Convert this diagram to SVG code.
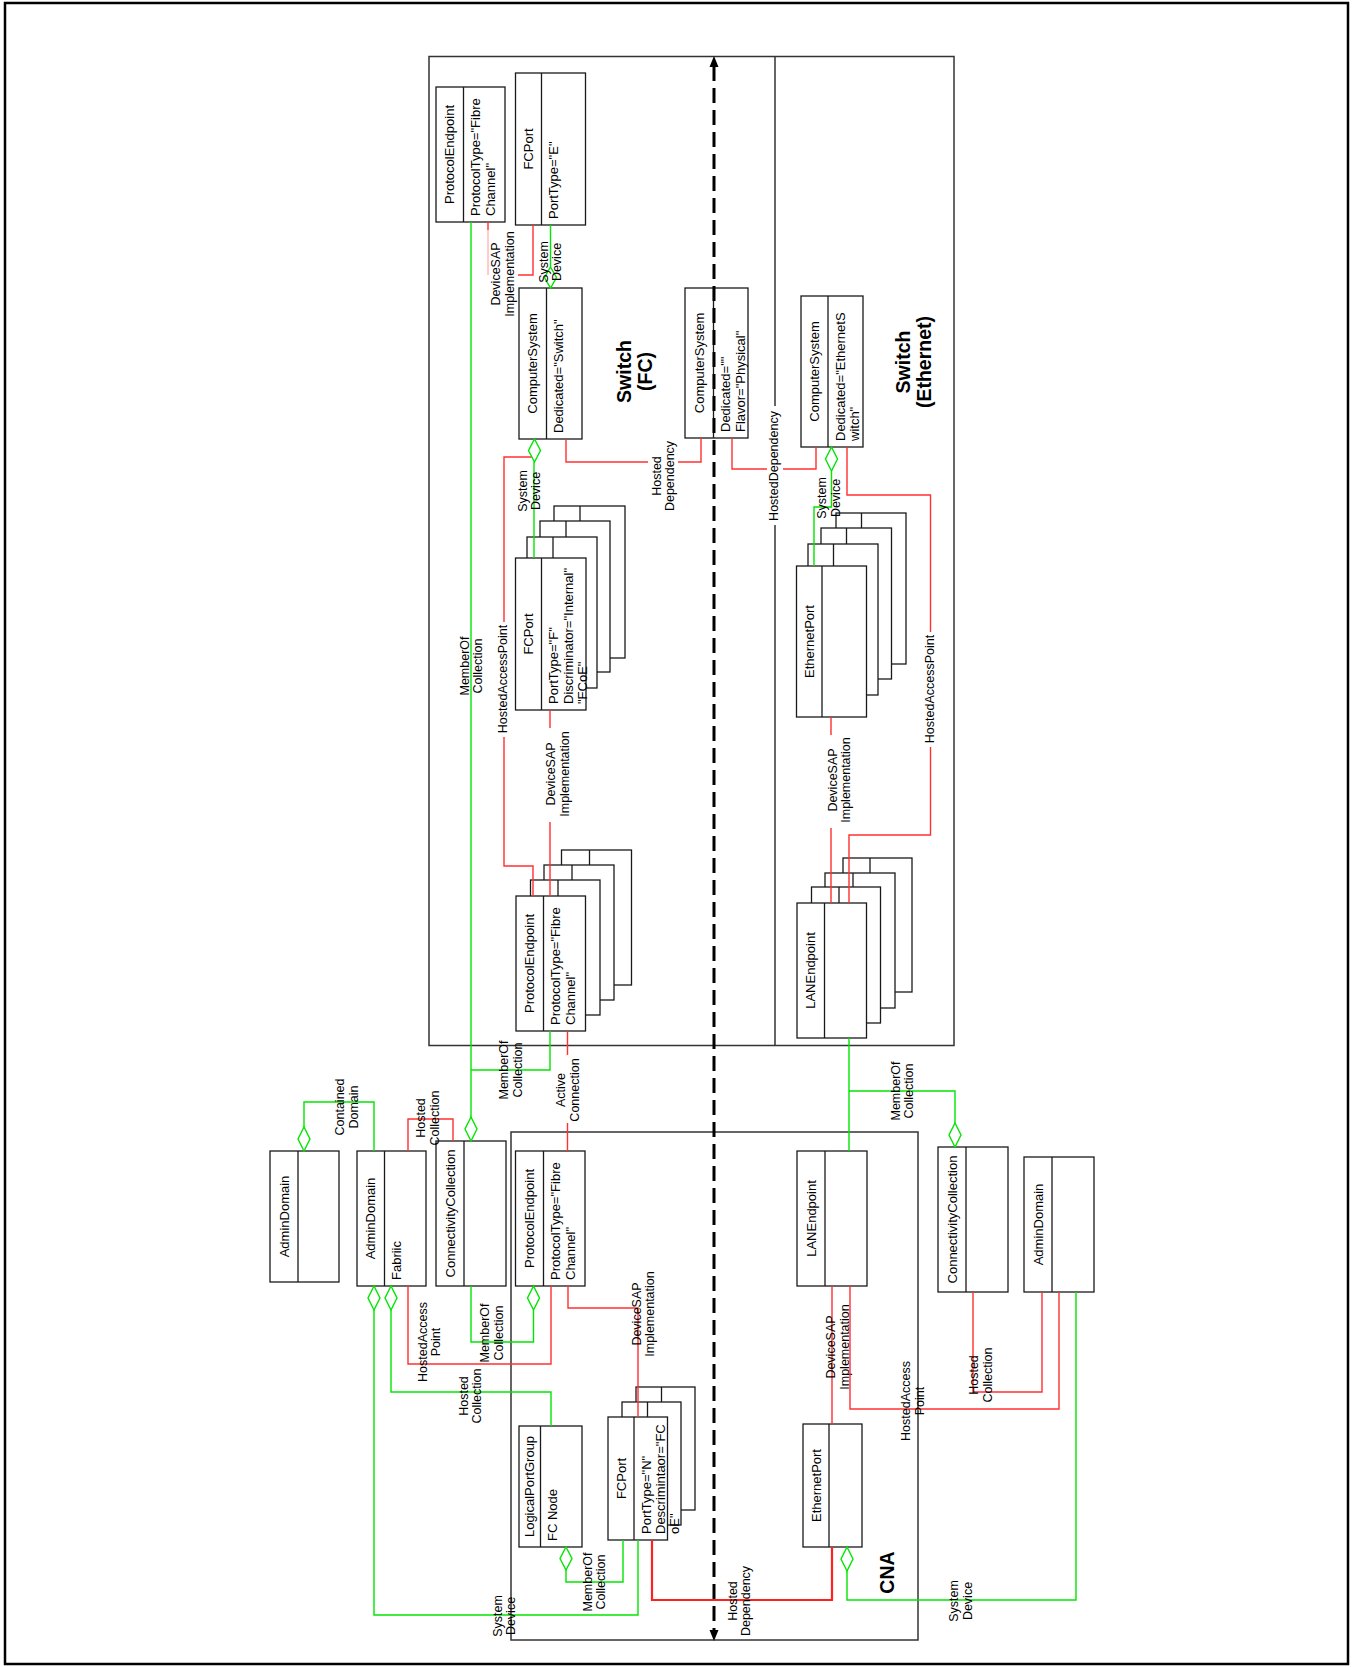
<svg xmlns="http://www.w3.org/2000/svg" width="1353" height="1667" viewBox="0 0 1353 1667">
<style>
.box{fill:#fff;stroke:#1a1a1a;stroke-width:1.3}
.dv{stroke:#1a1a1a;stroke-width:1.3}
.cont{fill:none;stroke:#333;stroke-width:1.5}
.t{font-family:"Liberation Sans",Arial,sans-serif;font-size:13px;fill:#000}
.lbl{font-size:12.5px}
.ttl{font-family:"Liberation Sans",Arial,sans-serif;font-size:19.5px;font-weight:bold;fill:#000}
.g{stroke:#00e600;fill:none;stroke-width:1.4}
.r{stroke:#ff3030;fill:none;stroke-width:1.4}
.rt{stroke:#ff2020;fill:none;stroke-width:2.2}
.dia{fill:#fff;stroke:#00e600;stroke-width:1.4}
</style>
<rect x="0" y="0" width="1353" height="1667" fill="#fff"/>
<rect x="5" y="3" width="1343" height="1661" fill="none" stroke="#000" stroke-width="2.5"/>

<g id="switch-container">
<rect class="cont" x="429" y="56.5" width="525" height="989"/>
<line class="cont" x1="775" y1="56.5" x2="775" y2="406"/>
<line class="cont" x1="775" y1="525" x2="775" y2="1045.5"/>
<text class="ttl" text-anchor="middle" transform="translate(631,371.5) rotate(-90)"><tspan x="0" y="0">Switch</tspan><tspan x="0" y="21">(FC)</tspan></text>
<text class="ttl" text-anchor="middle" transform="translate(910,362) rotate(-90)"><tspan x="0" y="0">Switch</tspan><tspan x="0" y="21">(Ethernet)</tspan></text>
</g>
<g id="cna-container">
<rect class="cont" x="511" y="1132" width="407" height="508"/>
<text class="ttl" text-anchor="middle" transform="translate(893.5,1572.5) rotate(-90)">CNA</text>
</g>

<g id="pe-top">
<rect class="box" x="436" y="87" width="69" height="135"/>
<line class="dv" x1="463.5" y1="87" x2="463.5" y2="222"/>
<text class="t" text-anchor="middle" transform="translate(449.75,154.5) rotate(-90)" y="4.5">ProtocolEndpoint</text>
<text class="t" transform="translate(463.5,222) rotate(-90)"><tspan x="6" y="16.5">ProtocolType="Fibre</tspan><tspan x="6" y="31">Channel"</tspan></text>
</g>
<g id="fcport-e">
<rect class="box" x="515.5" y="73" width="70" height="152"/>
<line class="dv" x1="541.5" y1="73" x2="541.5" y2="225"/>
<text class="t" text-anchor="middle" transform="translate(528.5,149) rotate(-90)" y="4.5">FCPort</text>
<text class="t" transform="translate(541.5,225) rotate(-90)"><tspan x="6" y="16.5">PortType="E"</tspan></text>
</g>
<g id="cs-switch">
<rect class="box" x="519" y="288" width="63" height="151"/>
<line class="dv" x1="546.5" y1="288" x2="546.5" y2="439"/>
<text class="t" text-anchor="middle" transform="translate(532.75,363.5) rotate(-90)" y="4.5">ComputerSystem</text>
<text class="t" transform="translate(546.5,439) rotate(-90)"><tspan x="6" y="16.5">Dedicated="Switch"</tspan></text>
</g>
<g id="cs-physical">
<rect class="box" x="685" y="288" width="63" height="150"/>
<line class="dv" x1="713.5" y1="288" x2="713.5" y2="438"/>
<text class="t" text-anchor="middle" transform="translate(699.25,363) rotate(-90)" y="4.5">ComputerSystem</text>
<text class="t" transform="translate(713.5,438) rotate(-90)"><tspan x="6" y="16.5">Dedicated=""</tspan><tspan x="6" y="31">Flavor="Physical"</tspan></text>
</g>
<g id="cs-ethernet">
<rect class="box" x="801" y="296" width="62" height="151"/>
<line class="dv" x1="828" y1="296" x2="828" y2="447"/>
<text class="t" text-anchor="middle" transform="translate(814.5,371.5) rotate(-90)" y="4.5">ComputerSystem</text>
<text class="t" transform="translate(828,447) rotate(-90)"><tspan x="6" y="16.5">Dedicated="EthernetS</tspan><tspan x="6" y="31">witch"</tspan></text>
</g>
<g id="fcport-f">
<rect class="box" x="554" y="506" width="71" height="152"/><line class="dv" x1="580" y1="506" x2="580" y2="658"/>
<rect class="box" x="540" y="521" width="70" height="151"/><line class="dv" x1="566" y1="521" x2="566" y2="672"/>
<rect class="box" x="527" y="537" width="70" height="151"/><line class="dv" x1="553" y1="537" x2="553" y2="688"/>
<rect class="box" x="515.5" y="558" width="70.5" height="152"/><line class="dv" x1="541.5" y1="558" x2="541.5" y2="710"/>
<text class="t" text-anchor="middle" transform="translate(528.5,634) rotate(-90)" y="4.5">FCPort</text>
<text class="t" transform="translate(541.5,710) rotate(-90)"><tspan x="6" y="16.5">PortType="F"</tspan><tspan x="6" y="31">Discriminator="Internal"</tspan><tspan x="6" y="45.5">"FCoE"</tspan></text>
</g>
<g id="pe-switch">
<rect class="box" x="561.5" y="850" width="70" height="135"/><line class="dv" x1="589.5" y1="850" x2="589.5" y2="985"/>
<rect class="box" x="544" y="865" width="70" height="135"/><line class="dv" x1="572" y1="865" x2="572" y2="1000"/>
<rect class="box" x="530.5" y="880" width="69.5" height="135"/><line class="dv" x1="558" y1="880" x2="558" y2="1015"/>
<rect class="box" x="516" y="896" width="69.5" height="135"/><line class="dv" x1="543.5" y1="896" x2="543.5" y2="1031"/>
<text class="t" text-anchor="middle" transform="translate(529.75,963.5) rotate(-90)" y="4.5">ProtocolEndpoint</text>
<text class="t" transform="translate(543.5,1031) rotate(-90)"><tspan x="6" y="16.5">ProtocolType="Fibre</tspan><tspan x="6" y="31">Channel"</tspan></text>
</g>
<g id="ethport-switch">
<rect class="box" x="836" y="513" width="70" height="151"/><line class="dv" x1="861.5" y1="513" x2="861.5" y2="664"/>
<rect class="box" x="821" y="528" width="70.5" height="151"/><line class="dv" x1="846.5" y1="528" x2="846.5" y2="679"/>
<rect class="box" x="808" y="544" width="70" height="151"/><line class="dv" x1="833.5" y1="544" x2="833.5" y2="695"/>
<rect class="box" x="796.5" y="566" width="70" height="151"/><line class="dv" x1="822" y1="566" x2="822" y2="717"/>
<text class="t" text-anchor="middle" transform="translate(809.25,641.5) rotate(-90)" y="4.5">EthernetPort</text>
</g>
<g id="lan-switch">
<rect class="box" x="843" y="858" width="69" height="134"/><line class="dv" x1="870" y1="858" x2="870" y2="992"/>
<rect class="box" x="825" y="873" width="70" height="135"/><line class="dv" x1="853" y1="873" x2="853" y2="1008"/>
<rect class="box" x="811.5" y="887" width="69" height="136"/><line class="dv" x1="839" y1="887" x2="839" y2="1023"/>
<rect class="box" x="797" y="903" width="69.5" height="135"/><line class="dv" x1="824.5" y1="903" x2="824.5" y2="1038"/>
<text class="t" text-anchor="middle" transform="translate(810.75,970.5) rotate(-90)" y="4.5">LANEndpoint</text>
</g>
<g id="admindomain-left">
<rect class="box" x="270" y="1151" width="69" height="131"/>
<line class="dv" x1="298" y1="1151" x2="298" y2="1282"/>
<text class="t" text-anchor="middle" transform="translate(284,1216.5) rotate(-90)" y="4.5">AdminDomain</text>
</g>
<g id="admindomain-fabric">
<rect class="box" x="357" y="1151" width="69" height="135"/>
<line class="dv" x1="384.5" y1="1151" x2="384.5" y2="1286"/>
<text class="t" text-anchor="middle" transform="translate(370.75,1218.5) rotate(-90)" y="4.5">AdminDomain</text>
<text class="t" transform="translate(384.5,1286) rotate(-90)"><tspan x="6" y="16.5">Fabriic</tspan></text>
</g>
<g id="conncoll-left">
<rect class="box" x="436" y="1141" width="70" height="145"/>
<line class="dv" x1="464" y1="1141" x2="464" y2="1286"/>
<text class="t" text-anchor="middle" transform="translate(450,1213.5) rotate(-90)" y="4.5">ConnectivityCollection</text>
</g>
<g id="pe-cna">
<rect class="box" x="515.5" y="1151" width="69.5" height="135"/>
<line class="dv" x1="543.5" y1="1151" x2="543.5" y2="1286"/>
<text class="t" text-anchor="middle" transform="translate(529.5,1218.5) rotate(-90)" y="4.5">ProtocolEndpoint</text>
<text class="t" transform="translate(543.5,1286) rotate(-90)"><tspan x="6" y="16.5">ProtocolType="Fibre</tspan><tspan x="6" y="31">Channel"</tspan></text>
</g>
<g id="logicalportgroup">
<rect class="box" x="519" y="1426" width="63" height="121"/>
<line class="dv" x1="540.5" y1="1426" x2="540.5" y2="1547"/>
<text class="t" text-anchor="middle" transform="translate(529.75,1486.5) rotate(-90)" y="4.5">LogicalPortGroup</text>
<text class="t" transform="translate(540.5,1547) rotate(-90)"><tspan x="6" y="16.5">FC Node</tspan></text>
</g>
<g id="fcport-n">
<rect class="box" x="636" y="1387" width="59" height="123"/><line class="dv" x1="661.5" y1="1387" x2="661.5" y2="1510"/>
<rect class="box" x="622" y="1402" width="59" height="123"/><line class="dv" x1="647.5" y1="1402" x2="647.5" y2="1525"/>
<rect class="box" x="608" y="1417" width="59.5" height="123"/><line class="dv" x1="634" y1="1417" x2="634" y2="1540"/>
<text class="t" text-anchor="middle" transform="translate(621,1478.5) rotate(-90)" y="4.5">FCPort</text>
<text class="t" transform="translate(634,1540) rotate(-90)"><tspan x="6" y="16.5">PortType="N"</tspan><tspan x="6" y="31">Descrimintaor="FC</tspan><tspan x="6" y="45">oE"</tspan></text>
</g>
<g id="lan-cna">
<rect class="box" x="797" y="1151" width="70" height="135"/>
<line class="dv" x1="825" y1="1151" x2="825" y2="1286"/>
<text class="t" text-anchor="middle" transform="translate(811,1218.5) rotate(-90)" y="4.5">LANEndpoint</text>
</g>
<g id="conncoll-right">
<rect class="box" x="938" y="1147" width="70" height="145"/>
<line class="dv" x1="966" y1="1147" x2="966" y2="1292"/>
<text class="t" text-anchor="middle" transform="translate(952,1219.5) rotate(-90)" y="4.5">ConnectivityCollection</text>
</g>
<g id="admindomain-right">
<rect class="box" x="1024" y="1157" width="70" height="135"/>
<line class="dv" x1="1052" y1="1157" x2="1052" y2="1292"/>
<text class="t" text-anchor="middle" transform="translate(1038,1224.5) rotate(-90)" y="4.5">AdminDomain</text>
</g>
<g id="ethport-cna">
<rect class="box" x="803" y="1424" width="59" height="123"/>
<line class="dv" x1="829" y1="1424" x2="829" y2="1547"/>
<text class="t" text-anchor="middle" transform="translate(816,1485.5) rotate(-90)" y="4.5">EthernetPort</text>
</g>

<g id="connectors">
<path class="g" d="M471,222 V1117"/>
<path class="dia" d="M471,1117 L477,1129 L471,1141 L465,1129 Z"/>
<text class="t lbl" text-anchor="middle" transform="translate(471,666) rotate(-90)"><tspan x="0" y="-2.4">MemberOf</tspan><tspan x="0" y="11.1">Collection</tspan></text>

<path class="r" d="M488,222 V230 M518,275 H533 V225"/>
<path d="M488,230 V275" stroke="#ff3030" stroke-opacity="0.35" stroke-width="1.4" fill="none"/>
<text class="t lbl" text-anchor="middle" transform="translate(502.5,274) rotate(-90)"><tspan x="0" y="-2.4">DeviceSAP</tspan><tspan x="0" y="11.1">Implementation</tspan></text>

<path class="g" d="M550.5,225 V267"/>
<path class="dia" d="M550.5,267 L556.5,277.5 L550.5,288 L544.5,277.5 Z"/>
<text class="t lbl" text-anchor="middle" transform="translate(550,262) rotate(-90)"><tspan x="0" y="-2.4">System</tspan><tspan x="0" y="11.1">Device</tspan></text>

<path class="r" d="M534,439 V457 H504 V622 M504,737 V866 H533 V896"/>
<text class="t lbl" text-anchor="middle" transform="translate(503,679) rotate(-90)" y="4.4">HostedAccessPoint</text>

<path class="g" d="M534,558 V462"/>
<path class="dia" d="M534.5,439 L540.5,450.5 L534.5,462 L528.5,450.5 Z"/>
<text class="t lbl" text-anchor="middle" transform="translate(529,491) rotate(-90)"><tspan x="0" y="-2.4">System</tspan><tspan x="0" y="11.1">Device</tspan></text>

<path class="r" d="M550,710 V728 M550,822 V896"/>
<text class="t lbl" text-anchor="middle" transform="translate(557.5,774) rotate(-90)"><tspan x="0" y="-2.4">DeviceSAP</tspan><tspan x="0" y="11.1">Implementation</tspan></text>

<path class="r" d="M566,439 V462 H648 M678,462 H701 V438"/>
<text class="t lbl" text-anchor="middle" transform="translate(663,476) rotate(-90)"><tspan x="0" y="-2.4">Hosted</tspan><tspan x="0" y="11.1">Dependency</tspan></text>

<path class="r" d="M732,438 V469 H767 M783,469 H816 V447"/>
<text class="t lbl" text-anchor="middle" transform="translate(773.5,466) rotate(-90)" y="4.4">HostedDependency</text>

<path class="g" d="M814,566 V507 H831.5 V471"/>
<path class="dia" d="M831.5,447 L837.5,459 L831.5,471 L825.5,459 Z"/>
<text class="t lbl" text-anchor="middle" transform="translate(828.5,498) rotate(-90)"><tspan x="0" y="-2.4">System</tspan><tspan x="0" y="11.1">Device</tspan></text>

<path class="r" d="M847,447 V495 H930.5 V632 M930.5,747 V835 H849 V903"/>
<text class="t lbl" text-anchor="middle" transform="translate(929.5,689) rotate(-90)" y="4.4">HostedAccessPoint</text>

<path class="r" d="M831,717 V735 M831,828 V903"/>
<text class="t lbl" text-anchor="middle" transform="translate(839,780) rotate(-90)"><tspan x="0" y="-2.4">DeviceSAP</tspan><tspan x="0" y="11.1">Implementation</tspan></text>

<path class="g" d="M849,1038 V1151 M849,1091 H955 V1123"/>
<path class="dia" d="M955,1123 L961,1135 L955,1147 L949,1135 Z"/>
<text class="t lbl" text-anchor="middle" transform="translate(902,1091) rotate(-90)"><tspan x="0" y="-2.4">MemberOf</tspan><tspan x="0" y="11.1">Collection</tspan></text>

<path class="g" d="M550,1031 V1070 H471"/>
<text class="t lbl" text-anchor="middle" transform="translate(510.5,1070) rotate(-90)"><tspan x="0" y="-2.4">MemberOf</tspan><tspan x="0" y="11.1">Collection</tspan></text>

<path class="r" d="M567.5,1031 V1055 M567.5,1123 V1151"/>
<text class="t lbl" text-anchor="middle" transform="translate(567.5,1090) rotate(-90)"><tspan x="0" y="-2.4">Active</tspan><tspan x="0" y="11.1">Connection</tspan></text>

<path class="g" d="M374,1151 V1102 H304 V1127"/>
<path class="dia" d="M304,1127 L310,1139 L304,1151 L298,1139 Z"/>
<text class="t lbl" text-anchor="middle" transform="translate(346.5,1107) rotate(-90)"><tspan x="0" y="-2.4">Contained</tspan><tspan x="0" y="11.1">Domain</tspan></text>

<path class="r" d="M408,1151 V1119 H453 V1141"/>
<text class="t lbl" text-anchor="middle" transform="translate(427.5,1118) rotate(-90)"><tspan x="0" y="-2.4">Hosted</tspan><tspan x="0" y="11.1">Collection</tspan></text>

<path class="g" d="M471,1286 V1342 H533.5 V1310"/>
<path class="dia" d="M533.5,1286 L539.5,1298 L533.5,1310 L527.5,1298 Z"/>
<text class="t lbl" text-anchor="middle" transform="translate(491.5,1333) rotate(-90)"><tspan x="0" y="-2.4">MemberOf</tspan><tspan x="0" y="11.1">Collection</tspan></text>

<path class="r" d="M408,1286 V1364 H551 V1286"/>
<text class="t lbl" text-anchor="middle" transform="translate(429,1342) rotate(-90)"><tspan x="0" y="-2.4">HostedAccess</tspan><tspan x="0" y="11.1">Point</tspan></text>

<path class="g" d="M391,1310 V1392 H551 V1426"/>
<path class="dia" d="M391,1286 L397,1298 L391,1310 L385,1298 Z"/>
<text class="t lbl" text-anchor="middle" transform="translate(470,1396) rotate(-90)"><tspan x="0" y="-2.4">Hosted</tspan><tspan x="0" y="11.1">Collection</tspan></text>

<path class="g" d="M374,1310 V1615 H638 V1540"/>
<path class="dia" d="M374,1286 L380,1298 L374,1310 L368,1298 Z"/>
<text class="t lbl" text-anchor="middle" transform="translate(504,1616) rotate(-90)"><tspan x="0" y="-2.4">System</tspan><tspan x="0" y="11.1">Device</tspan></text>

<path class="r" d="M568,1286 V1308 H638 V1417"/>
<text class="t lbl" text-anchor="middle" transform="translate(643,1314) rotate(-90)"><tspan x="0" y="-2.4">DeviceSAP</tspan><tspan x="0" y="11.1">Implementation</tspan></text>

<path class="g" d="M566,1570 V1582 H623 V1540"/>
<path class="dia" d="M566,1547 L572,1558.5 L566,1570 L560,1558.5 Z"/>
<text class="t lbl" text-anchor="middle" transform="translate(594,1582) rotate(-90)"><tspan x="0" y="-2.4">MemberOf</tspan><tspan x="0" y="11.1">Collection</tspan></text>

<path class="rt" d="M652,1540 V1600 H832 V1547"/>
<text class="t lbl" text-anchor="middle" transform="translate(739,1601) rotate(-90)"><tspan x="0" y="-2.4">Hosted</tspan><tspan x="0" y="11.1">Dependency</tspan></text>

<path class="g" d="M847,1571 V1600 H1076 V1292"/>
<path class="dia" d="M847,1547 L853,1559 L847,1571 L841,1559 Z"/>
<text class="t lbl" text-anchor="middle" transform="translate(960.5,1601) rotate(-90)"><tspan x="0" y="-2.4">System</tspan><tspan x="0" y="11.1">Device</tspan></text>

<path class="r" d="M832,1286 V1424"/>
<text class="t lbl" text-anchor="middle" transform="translate(837.5,1347) rotate(-90)"><tspan x="0" y="-2.4">DeviceSAP</tspan><tspan x="0" y="11.1">Implementation</tspan></text>

<path class="r" d="M850,1286 V1409 H1059 V1292"/>
<text class="t lbl" text-anchor="middle" transform="translate(912.5,1401) rotate(-90)"><tspan x="0" y="-2.4">HostedAccess</tspan><tspan x="0" y="11.1">Point</tspan></text>

<path class="r" d="M973,1292 V1392 H1042 V1292"/>
<text class="t lbl" text-anchor="middle" transform="translate(980.5,1375) rotate(-90)"><tspan x="0" y="-2.4">Hosted</tspan><tspan x="0" y="11.1">Collection</tspan></text>
</g>

<g id="boundary-arrow">
<line x1="714" y1="66" x2="714" y2="1631" stroke="#000" stroke-width="3" stroke-dasharray="15 7"/>
<polygon points="709.5,67 718.5,67 714,56" fill="#000"/>
<polygon points="709.5,1630 718.5,1630 714,1641" fill="#000"/>
</g>
</svg>
